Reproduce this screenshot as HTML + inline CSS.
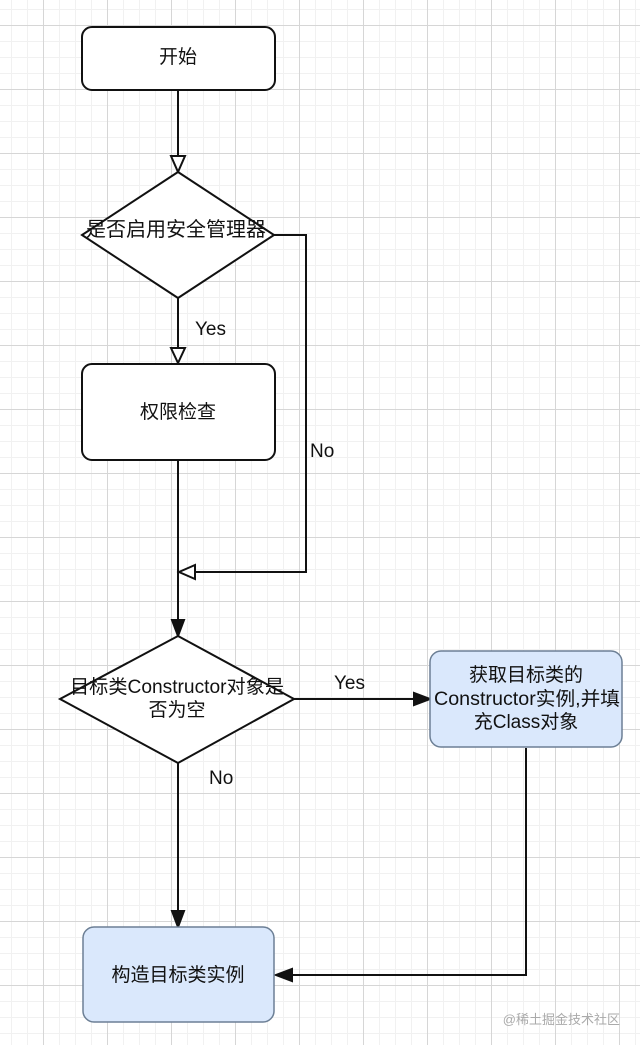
<!DOCTYPE html>
<html><head><meta charset="utf-8"><style>
html,body{margin:0;padding:0;}
body{width:640px;height:1045px;position:relative;overflow:hidden;background-color:#fff;
background-image:
linear-gradient(to right,#d6d6d6 1px,transparent 1px),
linear-gradient(to bottom,#d6d6d6 1px,transparent 1px),
linear-gradient(to right,#f1f1f1 1px,transparent 1px),
linear-gradient(to bottom,#f1f1f1 1px,transparent 1px);
background-size:64px 64px,64px 64px,16px 16px,16px 16px;
background-position:43px 25px,43px 25px,43px 25px,43px 25px;
font-family:"Liberation Sans","Noto Sans CJK SC",sans-serif;}
svg{position:absolute;left:0;top:0;}
text{font-family:"Liberation Sans","Noto Sans CJK SC",sans-serif;font-size:19px;fill:#111;}
</style></head><body>
<svg width="640" height="1045" viewBox="0 0 640 1045">
<g stroke="#111" stroke-width="2" fill="none">
<rect x="82" y="27" width="193" height="63" rx="10" fill="#fff"/>
<line x1="178" y1="90" x2="178" y2="156"/>
<polygon points="171,156 185,156 178,172" fill="#fff"/>
<polygon points="178,172 274,235 178,298 82,235" fill="#fff"/>
<line x1="178" y1="298" x2="178" y2="348"/>
<polygon points="171,348 185,348 178,363" fill="#fff"/>
<rect x="82" y="364" width="193" height="96" rx="10" fill="#fff"/>
<polyline points="274,235 306,235 306,572 195,572"/>
<polygon points="195,565 195,579 179,572" fill="#fff"/>
<line x1="178" y1="460" x2="178" y2="620"/>
<polygon points="172,620 184,620 178,636" fill="#111"/>
<polygon points="178,636 294,699 178,763 60,699" fill="#fff"/>
<line x1="294" y1="699" x2="414" y2="699"/>
<polygon points="414,693 414,705 430,699" fill="#111"/>
<line x1="178" y1="763" x2="178" y2="911"/>
<polygon points="172,911 184,911 178,927" fill="#111"/>
<polyline points="526,748 526,975 292,975"/>
<polygon points="292,969 292,981 276,975" fill="#111"/>
</g>
<rect x="430" y="651" width="192" height="96" rx="11" fill="#dae8fc" stroke="#6c7f95" stroke-width="1.5"/>
<rect x="83" y="927" width="191" height="95" rx="11" fill="#dae8fc" stroke="#6c7f95" stroke-width="1.5"/>
<text x="178" y="63" text-anchor="middle">开始</text>
<text x="176" y="236" text-anchor="middle" style="font-size:20px">是否启用安全管理器</text>
<text x="195" y="335">Yes</text>
<text x="178" y="418" text-anchor="middle">权限检查</text>
<text x="310" y="457">No</text>
<text x="177" y="693" text-anchor="middle" textLength="214" lengthAdjust="spacingAndGlyphs">目标类Constructor对象是</text>
<text x="177" y="716" text-anchor="middle">否为空</text>
<text x="334" y="689">Yes</text>
<text x="209" y="784">No</text>
<text x="526" y="681" text-anchor="middle">获取目标类的</text>
<text x="527" y="705" text-anchor="middle" textLength="186" lengthAdjust="spacingAndGlyphs">Constructor实例,并填</text>
<text x="526" y="728" text-anchor="middle">充Class对象</text>
<text x="178" y="981" text-anchor="middle">构造目标类实例</text>
<text x="620" y="1024" text-anchor="end" style="font-size:13px;fill:#aaa">@稀土掘金技术社区</text>
</svg>
</body></html>
